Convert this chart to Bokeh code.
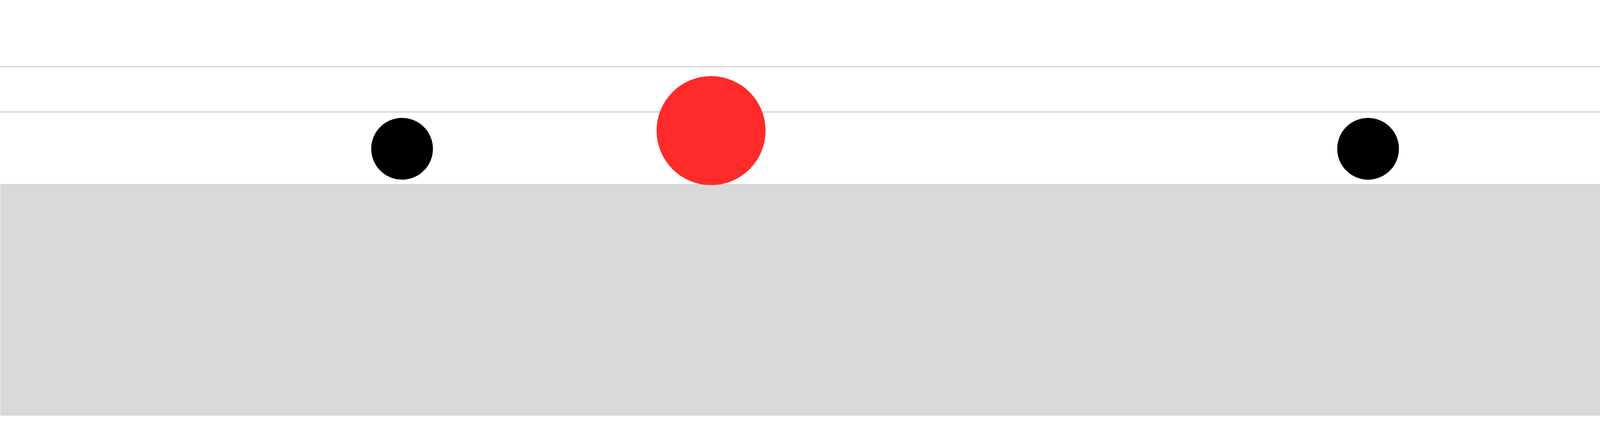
from bokeh.plotting import figure
from bokeh.models import BoxAnnotation, Grid, FixedTicker, Range1d
from bokeh.embed import file_html
from bokeh.resources import INLINE

# values
xs = [13.5, 23.8, 45.7, 57.1, 74.6, 95.3]
ys = [0.91, 1.37, 0.91, 3.67, 2.40, 1.29]
sizes = [158, 279, 158, 112, 80, 262]
colors = ["black", "#ff2a2a", "black", "black", "#ff0000", "black"]
grid_ticks = [0, 1.84, 3.0]

p = figure(width=7664, height=1064, output_backend="svg", toolbar_location=None, tools="",
           x_axis_location=None, y_axis_location=None,
           x_range=Range1d(0.104, 99.896), y_range=Range1d(-5.871, 4.681))
p.min_border = 0
p.outline_line_color = None
p.background_fill_color = "white"
p.border_fill_color = "white"
p.xgrid.visible = False
p.ygrid.visible = False

# grey floor under everything below zero
p.add_layout(BoxAnnotation(top=0, fill_color="#d9d9d9", fill_alpha=1.0,
                           line_color=None, level="underlay"))
p.add_layout(Grid(dimension=1, ticker=FixedTicker(ticks=grid_ticks),
                  grid_line_color="#d3d3d3", grid_line_width=3))

p.scatter(x=xs, y=ys, size=sizes, color=colors, line_color=None)

open("out.html", "w").write(file_html(p, INLINE))
